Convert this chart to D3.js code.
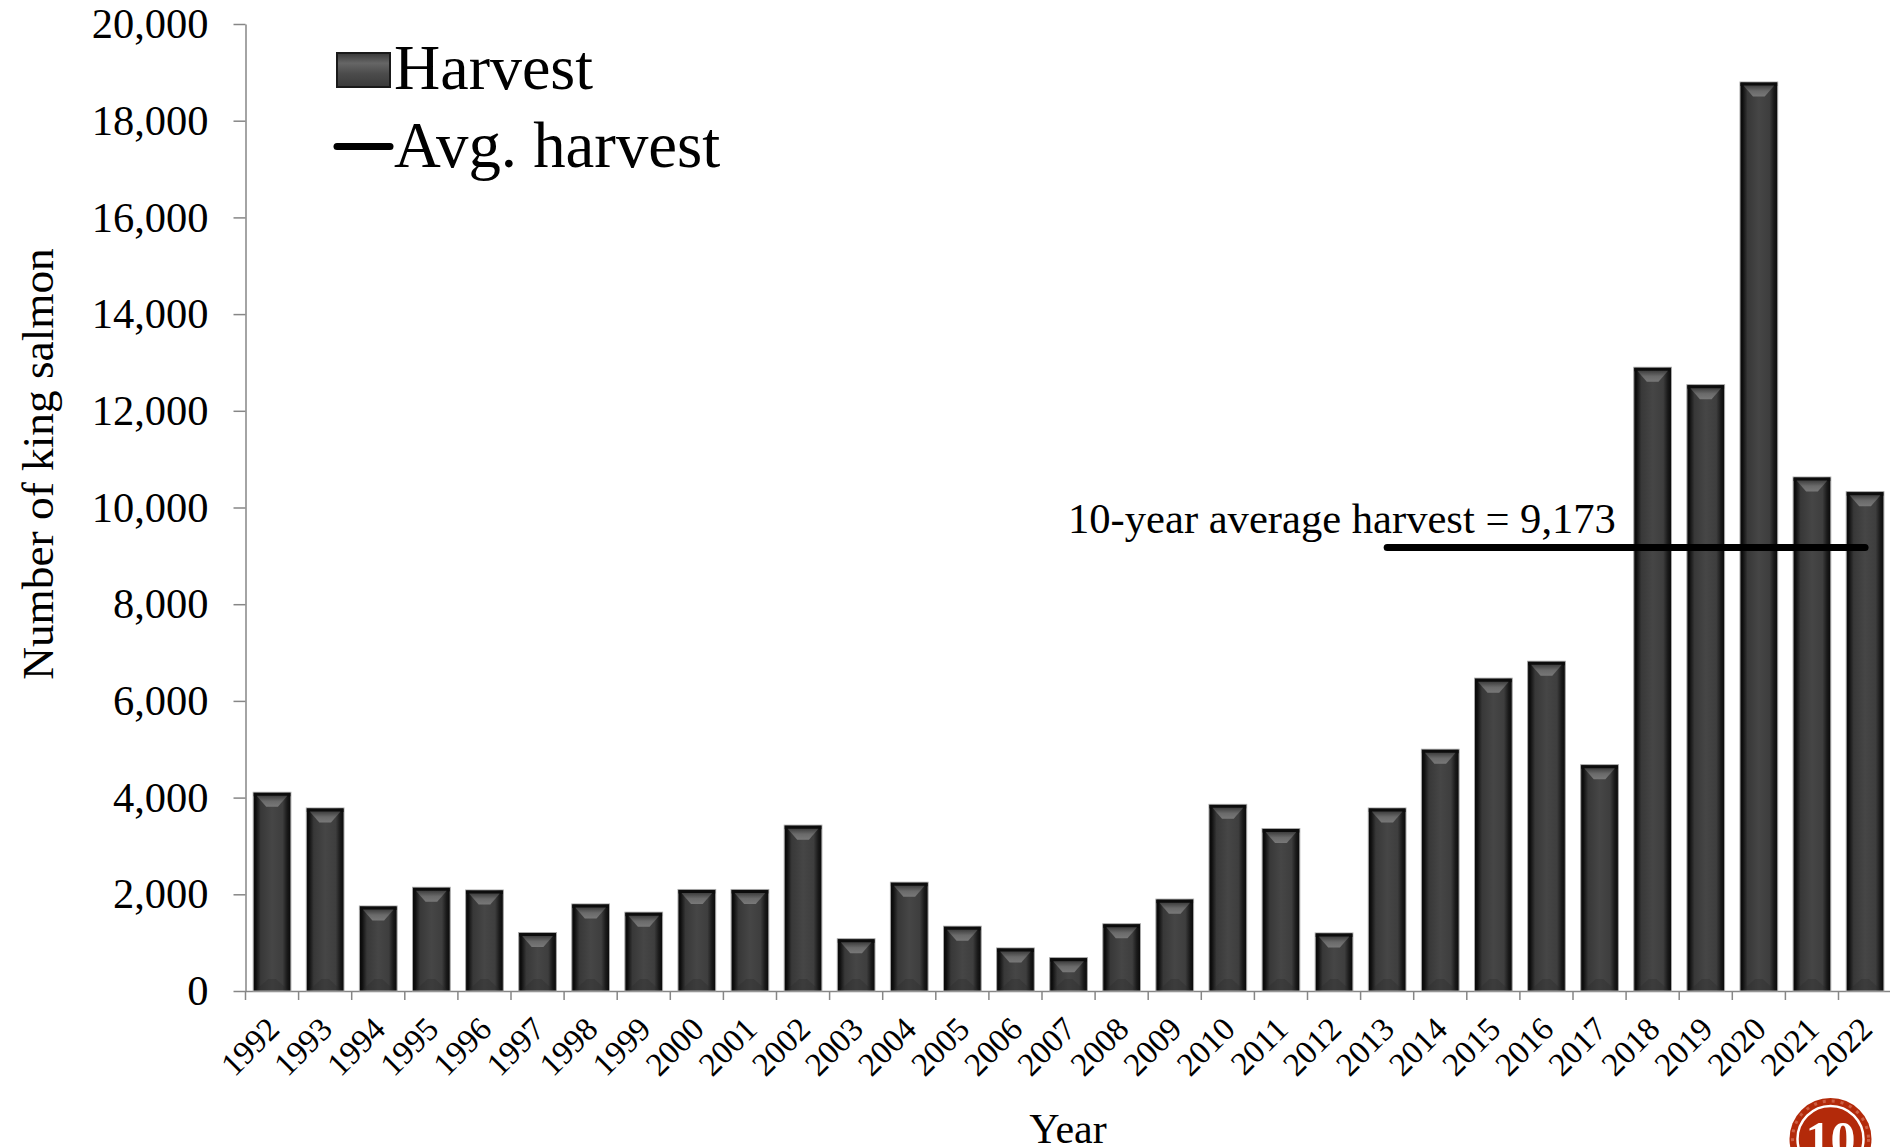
<!DOCTYPE html>
<html><head><meta charset="utf-8">
<script src="https://cdnjs.cloudflare.com/ajax/libs/d3/7.8.5/d3.min.js"></script>
<style>html,body{margin:0;padding:0;background:#fff;overflow:hidden}svg{display:block}text{font-family:"Liberation Serif","Times New Roman",serif;fill:#000}</style>
</head><body><svg id="c" width="1890" height="1147"></svg>
<script>
const years = d3.range(1992, 2023).map(String);
const harvest = [4110,3785,1758,2145,2089,1210,1800,1630,2100,2100,3430,1080,2250,1340,890,690,1390,1900,3860,3360,1200,3785,5000,6470,6820,4680,12900,12540,18800,10630,10327];
const avgYears = ["2013","2022"];
const avgValue = 9173;
const yTicks = d3.range(0, 20001, 2000);
const legendLabels = ["Harvest","Avg. harvest"];
const annotation = "10-year average harvest = 9,173";

const svg = d3.select("#c");
const step = 53.1;
const x = d3.scaleBand().domain(years).range([245.5, 245.5 + step*31]).paddingInner(0.29).paddingOuter(0.145);
const y = d3.scaleLinear().domain([0,20000]).range([991,24]);

const defs = svg.append("defs");
function grad(id, stops, vertical){
  const g = defs.append("linearGradient").attr("id",id).attr("x1",0).attr("y1",0).attr("x2",vertical?0:1).attr("y2",vertical?1:0);
  stops.forEach(s=>g.append("stop").attr("offset",s[0]).attr("stop-color",s[1]));
}
grad("body",[[0,"#080808"],[0.07,"#0e0e0e"],[0.2,"#383838"],[0.5,"#464646"],[0.78,"#3e3e3e"],[0.9,"#1a1a1a"],[1,"#080808"]]);
grad("bevel",[[0,"#3e3e3e"],[0.5,"#6a6a6a"],[1,"#787878"]],true);
grad("legbody",[[0,"#383838"],[0.3,"#666"],[0.6,"#4c4c4c"],[1,"#3a3a3a"]],true);

const axisColor = "#868686";
const gx = svg.append("g").attr("transform","translate(0,991)")
  .call(d3.axisBottom(x).tickValues([]).tickSizeOuter(0));
gx.select("path").attr("stroke",axisColor).attr("stroke-width",1.5);
const edge = svg.append("g");
edge.selectAll("line").data(d3.range(0,31)).join("line")
  .attr("x1",i=>245.5+i*step).attr("x2",i=>245.5+i*step)
  .attr("y1",991).attr("y2",1000).attr("stroke",axisColor).attr("stroke-width",1.5);

const gy = svg.append("g").attr("transform","translate(245.5,0)")
  .call(d3.axisLeft(y).tickValues(yTicks).tickSize(12).tickPadding(25).tickSizeOuter(0).tickFormat(d3.format(",")));
gy.select("path").attr("stroke",axisColor).attr("stroke-width",1.5);
gy.selectAll("line").attr("stroke",axisColor).attr("stroke-width",1.5);
gy.selectAll("text").attr("font-size",42.5).attr("font-family","Liberation Serif").attr("fill","#000");

const bars = svg.append("g").selectAll("g").data(years.map((yr,i)=>({yr,v:harvest[i]}))).join("g");
bars.append("rect").attr("x",d=>x(d.yr)).attr("y",d=>y(d.v)).attr("width",x.bandwidth()).attr("height",d=>y(0)-y(d.v))
  .attr("fill","url(#body)").attr("stroke","#a8a8a8").attr("stroke-width",1);
bars.append("rect").attr("x",d=>x(d.yr)+0.5).attr("y",d=>y(d.v)+0.5).attr("width",x.bandwidth()-1).attr("height",3.5).attr("fill","#0c0c0c");
bars.append("path").attr("d",d=>{
  const a=x(d.yr), b=a+x.bandwidth(), t=y(d.v)+3.5;
  return `M${a+3.5},${t}L${b-3.5},${t}L${b-13},${t+11}L${a+13},${t+11}Z`;
}).attr("fill","url(#bevel)");
bars.append("path").attr("d",d=>{
  const a=x(d.yr), b=a+x.bandwidth(), t=y(0)-1;
  return `M${a+3},${t}L${b-3},${t}L${b-15},${t-11}L${a+15},${t-11}Z`;
}).attr("fill","#2a2a2a").attr("opacity",0.35);

const lineGen = d3.line().x(d=>x(d)+x.bandwidth()/2).y(()=>y(avgValue));
svg.append("path").attr("d",lineGen(avgYears)).attr("stroke","#000").attr("stroke-width",7).attr("stroke-linecap","round").attr("fill","none");

svg.append("g").selectAll("text").data(years).join("text")
  .attr("transform",d=>`translate(${x(d)+x.bandwidth()/2+9},1031) rotate(-45)`)
  .attr("text-anchor","end").attr("font-size",33).text(d=>d);

svg.append("text").attr("transform","translate(53,464) rotate(-90)").attr("text-anchor","middle").attr("font-size",45.3).text("Number of king salmon");
svg.append("text").attr("x",1068).attr("y",1143).attr("text-anchor","middle").attr("font-size",42).text("Year");
svg.append("text").attr("x",1068).attr("y",533).attr("font-size",42.6).text(annotation);

const lg = svg.append("g");
lg.append("rect").attr("x",337).attr("y",53).attr("width",53).attr("height",34).attr("fill","url(#legbody)").attr("stroke","#1a1a1a").attr("stroke-width",2);
lg.append("path").attr("d","M337,146.5H390").attr("stroke","#000").attr("stroke-width",7).attr("stroke-linecap","round");
lg.append("text").attr("x",394).attr("y",89).attr("font-size",64).text(legendLabels[0]);
lg.append("text").attr("x",394).attr("y",167).attr("font-size",64.8).text(legendLabels[1]);

const b = svg.append("g").attr("transform","translate(1830.5,1139)");
b.append("circle").attr("r",41).attr("fill","#b32a0a");
b.append("circle").attr("r",38).attr("fill","none").attr("stroke","#d9745a").attr("stroke-width",3).attr("stroke-dasharray","3 6").attr("opacity",0.7);
b.append("circle").attr("r",33).attr("fill","none").attr("stroke","#fff").attr("stroke-width",2.5);
b.append("text").attr("text-anchor","middle").attr("y",17).attr("font-size",50).attr("font-weight","bold").style("fill","#fff").text("10");
</script></body></html>
